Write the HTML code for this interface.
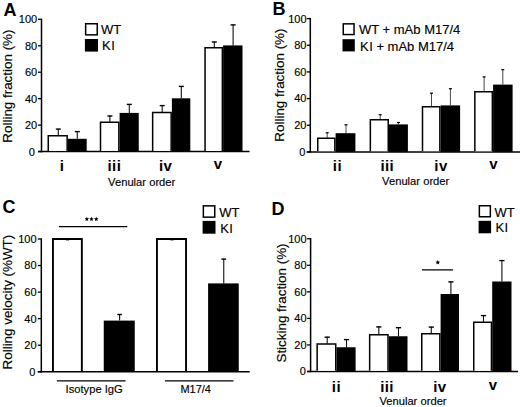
<!DOCTYPE html>
<html><head><meta charset="utf-8"><style>
html,body{margin:0;padding:0;background:#fff;}
body{width:520px;height:407px;overflow:hidden;}
svg{display:block;}
text{font-family:"Liberation Sans", sans-serif;fill:#000;stroke:#000;stroke-width:0.15px;}
text[font-weight=bold]{stroke:none;}
</style></head><body>
<svg width="520" height="407" viewBox="0 0 520 407">
<rect width="520" height="407" fill="#fff"/>
<text x="3.60" y="15.60" font-size="18" font-weight="bold">A</text>
<text transform="translate(11.60,86.10) rotate(-90)" font-size="13.4" text-anchor="middle">Rolling fraction (%)</text>
<line x1="41.50" y1="18.60" x2="41.50" y2="152.35" stroke="#000" stroke-width="1.5"/>
<line x1="38.00" y1="151.60" x2="249.50" y2="151.60" stroke="#000" stroke-width="1.5"/>
<line x1="38.00" y1="151.60" x2="41.50" y2="151.60" stroke="#000" stroke-width="1.3"/>
<text x="34.90" y="155.50" font-size="11" text-anchor="end">0</text>
<line x1="38.00" y1="125.14" x2="41.50" y2="125.14" stroke="#000" stroke-width="1.3"/>
<text x="37.20" y="129.04" font-size="11" text-anchor="end">20</text>
<line x1="38.00" y1="98.68" x2="41.50" y2="98.68" stroke="#000" stroke-width="1.3"/>
<text x="37.20" y="102.58" font-size="11" text-anchor="end">40</text>
<line x1="38.00" y1="72.22" x2="41.50" y2="72.22" stroke="#000" stroke-width="1.3"/>
<text x="37.20" y="76.12" font-size="11" text-anchor="end">60</text>
<line x1="38.00" y1="45.76" x2="41.50" y2="45.76" stroke="#000" stroke-width="1.3"/>
<text x="37.20" y="49.66" font-size="11" text-anchor="end">80</text>
<line x1="38.00" y1="19.30" x2="41.50" y2="19.30" stroke="#000" stroke-width="1.3"/>
<text x="37.20" y="23.20" font-size="11" text-anchor="end">100</text>
<line x1="58.30" y1="128.70" x2="58.30" y2="135.60" stroke="#111" stroke-width="1.1"/>
<line x1="55.80" y1="129.10" x2="60.80" y2="129.10" stroke="#000" stroke-width="1.4"/>
<line x1="77.30" y1="131.20" x2="77.30" y2="138.80" stroke="#111" stroke-width="1.1"/>
<line x1="74.80" y1="131.60" x2="79.80" y2="131.60" stroke="#000" stroke-width="1.4"/>
<path d="M48.25 150.90V135.85H67.15V150.90" fill="#fff" stroke="#000" stroke-width="1.5" stroke-linejoin="miter"/>
<rect x="67.90" y="138.80" width="18.80" height="12.80" fill="#000"/>
<line x1="109.90" y1="115.60" x2="109.90" y2="122.10" stroke="#111" stroke-width="1.1"/>
<line x1="107.40" y1="116.00" x2="112.40" y2="116.00" stroke="#000" stroke-width="1.4"/>
<line x1="129.30" y1="104.00" x2="129.30" y2="112.90" stroke="#111" stroke-width="1.1"/>
<line x1="126.80" y1="104.40" x2="131.80" y2="104.40" stroke="#000" stroke-width="1.4"/>
<path d="M100.50 150.90V122.35H118.85V150.90" fill="#fff" stroke="#000" stroke-width="1.5" stroke-linejoin="miter"/>
<rect x="119.60" y="112.90" width="19.15" height="38.70" fill="#000"/>
<line x1="162.20" y1="105.20" x2="162.20" y2="112.25" stroke="#111" stroke-width="1.1"/>
<line x1="159.70" y1="105.60" x2="164.70" y2="105.60" stroke="#000" stroke-width="1.4"/>
<line x1="181.30" y1="86.00" x2="181.30" y2="98.30" stroke="#111" stroke-width="1.1"/>
<line x1="178.80" y1="86.40" x2="183.80" y2="86.40" stroke="#000" stroke-width="1.4"/>
<path d="M152.65 150.90V112.50H171.15V150.90" fill="#fff" stroke="#000" stroke-width="1.5" stroke-linejoin="miter"/>
<rect x="171.90" y="98.30" width="18.40" height="53.30" fill="#000"/>
<line x1="214.30" y1="41.60" x2="214.30" y2="47.50" stroke="#111" stroke-width="1.1"/>
<line x1="211.80" y1="42.00" x2="216.80" y2="42.00" stroke="#000" stroke-width="1.4"/>
<line x1="233.10" y1="24.50" x2="233.10" y2="45.40" stroke="#111" stroke-width="1.1"/>
<line x1="230.60" y1="24.90" x2="235.60" y2="24.90" stroke="#000" stroke-width="1.4"/>
<path d="M205.05 150.90V47.75H222.35V150.90" fill="#fff" stroke="#000" stroke-width="1.5" stroke-linejoin="miter"/>
<rect x="223.10" y="45.40" width="19.40" height="106.20" fill="#000"/>
<text x="62.10" y="170.60" font-size="15" font-weight="bold" text-anchor="middle" letter-spacing="0.4">i</text>
<text x="114.40" y="170.60" font-size="15" font-weight="bold" text-anchor="middle" letter-spacing="0.4">iii</text>
<text x="165.70" y="170.60" font-size="15" font-weight="bold" text-anchor="middle" letter-spacing="0.4">iv</text>
<text x="218.20" y="168.60" font-size="15" font-weight="bold" text-anchor="middle" letter-spacing="0.4">v</text>
<text x="141.70" y="185.60" font-size="11.2" text-anchor="middle">Venular order</text>
<rect x="85.65" y="23.75" width="11.60" height="11.10" fill="#fff" stroke="#000" stroke-width="1.5"/>
<rect x="84.90" y="39.00" width="13.10" height="12.60" fill="#000"/>
<text x="101.00" y="34.20" font-size="13">WT</text>
<text x="102.00" y="50.20" font-size="13">K<tspan dx="0.5">I</tspan></text>
<text x="272.50" y="14.60" font-size="18" font-weight="bold">B</text>
<text transform="translate(284.00,85.10) rotate(-90)" font-size="13.4" text-anchor="middle">Rolling fraction (%)</text>
<line x1="310.30" y1="17.90" x2="310.30" y2="152.65" stroke="#000" stroke-width="1.5"/>
<line x1="306.80" y1="151.90" x2="520.00" y2="151.90" stroke="#000" stroke-width="1.5"/>
<line x1="306.80" y1="151.90" x2="310.30" y2="151.90" stroke="#000" stroke-width="1.3"/>
<text x="305.30" y="155.80" font-size="11" text-anchor="end">0</text>
<line x1="306.80" y1="125.24" x2="310.30" y2="125.24" stroke="#000" stroke-width="1.3"/>
<text x="306.50" y="129.14" font-size="11" text-anchor="end">20</text>
<line x1="306.80" y1="98.58" x2="310.30" y2="98.58" stroke="#000" stroke-width="1.3"/>
<text x="306.50" y="102.48" font-size="11" text-anchor="end">40</text>
<line x1="306.80" y1="71.92" x2="310.30" y2="71.92" stroke="#000" stroke-width="1.3"/>
<text x="306.50" y="75.82" font-size="11" text-anchor="end">60</text>
<line x1="306.80" y1="45.26" x2="310.30" y2="45.26" stroke="#000" stroke-width="1.3"/>
<text x="306.50" y="49.16" font-size="11" text-anchor="end">80</text>
<line x1="306.80" y1="18.60" x2="310.30" y2="18.60" stroke="#000" stroke-width="1.3"/>
<text x="306.50" y="22.50" font-size="11" text-anchor="end">100</text>
<line x1="327.20" y1="132.50" x2="327.20" y2="137.90" stroke="#333" stroke-width="0.9"/>
<line x1="325.70" y1="132.80" x2="328.70" y2="132.80" stroke="#000" stroke-width="1.2"/>
<line x1="346.00" y1="124.50" x2="346.00" y2="133.20" stroke="#333" stroke-width="0.9"/>
<line x1="344.50" y1="124.80" x2="347.50" y2="124.80" stroke="#000" stroke-width="1.2"/>
<path d="M317.75 151.20V138.15H334.85V151.20" fill="#fff" stroke="#000" stroke-width="1.5" stroke-linejoin="miter"/>
<rect x="335.60" y="133.20" width="19.80" height="18.70" fill="#000"/>
<line x1="380.20" y1="114.40" x2="380.20" y2="119.60" stroke="#333" stroke-width="0.9"/>
<line x1="378.70" y1="114.70" x2="381.70" y2="114.70" stroke="#000" stroke-width="1.2"/>
<line x1="398.50" y1="122.20" x2="398.50" y2="124.40" stroke="#333" stroke-width="0.9"/>
<line x1="397.00" y1="122.50" x2="400.00" y2="122.50" stroke="#000" stroke-width="1.2"/>
<path d="M370.35 151.20V119.85H388.25V151.20" fill="#fff" stroke="#000" stroke-width="1.5" stroke-linejoin="miter"/>
<rect x="389.00" y="124.40" width="18.90" height="27.50" fill="#000"/>
<line x1="431.50" y1="92.90" x2="431.50" y2="106.50" stroke="#333" stroke-width="0.9"/>
<line x1="430.00" y1="93.20" x2="433.00" y2="93.20" stroke="#000" stroke-width="1.2"/>
<line x1="450.40" y1="88.40" x2="450.40" y2="105.40" stroke="#333" stroke-width="0.9"/>
<line x1="448.90" y1="88.70" x2="451.90" y2="88.70" stroke="#000" stroke-width="1.2"/>
<path d="M422.50 151.20V106.75H439.85V151.20" fill="#fff" stroke="#000" stroke-width="1.5" stroke-linejoin="miter"/>
<rect x="440.60" y="105.40" width="19.50" height="46.50" fill="#000"/>
<line x1="484.10" y1="76.60" x2="484.10" y2="91.60" stroke="#333" stroke-width="0.9"/>
<line x1="482.60" y1="76.90" x2="485.60" y2="76.90" stroke="#000" stroke-width="1.2"/>
<line x1="502.80" y1="69.40" x2="502.80" y2="84.60" stroke="#333" stroke-width="0.9"/>
<line x1="501.30" y1="69.70" x2="504.30" y2="69.70" stroke="#000" stroke-width="1.2"/>
<path d="M474.85 151.20V91.85H492.35V151.20" fill="#fff" stroke="#000" stroke-width="1.5" stroke-linejoin="miter"/>
<rect x="493.10" y="84.60" width="19.50" height="67.30" fill="#000"/>
<text x="337.40" y="170.60" font-size="15" font-weight="bold" text-anchor="middle" letter-spacing="0.4">ii</text>
<text x="387.30" y="170.60" font-size="15" font-weight="bold" text-anchor="middle" letter-spacing="0.4">iii</text>
<text x="441.00" y="170.60" font-size="15" font-weight="bold" text-anchor="middle" letter-spacing="0.4">iv</text>
<text x="493.50" y="168.60" font-size="15" font-weight="bold" text-anchor="middle" letter-spacing="0.4">v</text>
<text x="415.70" y="185.40" font-size="11.2" text-anchor="middle">Venular order</text>
<rect x="343.25" y="23.85" width="10.80" height="10.70" fill="#fff" stroke="#000" stroke-width="1.5"/>
<rect x="342.50" y="39.20" width="12.30" height="12.20" fill="#000"/>
<text x="359.00" y="34.40" font-size="13">WT + mAb M17/4</text>
<text x="360.00" y="50.50" font-size="13">K<tspan dx="0.5">I</tspan> + mAb M17/4</text>
<text x="2.60" y="213.00" font-size="18" font-weight="bold">C</text>
<text transform="translate(12.30,302.10) rotate(-90)" font-size="13.4" text-anchor="middle">Rolling velocity (%WT)</text>
<line x1="41.30" y1="238.30" x2="41.30" y2="372.50" stroke="#000" stroke-width="1.5"/>
<line x1="37.80" y1="371.75" x2="249.70" y2="371.75" stroke="#000" stroke-width="1.5"/>
<line x1="37.80" y1="371.75" x2="41.30" y2="371.75" stroke="#000" stroke-width="1.3"/>
<text x="35.30" y="375.65" font-size="11" text-anchor="end">0</text>
<line x1="37.80" y1="345.20" x2="41.30" y2="345.20" stroke="#000" stroke-width="1.3"/>
<text x="36.60" y="349.10" font-size="11" text-anchor="end">20</text>
<line x1="37.80" y1="318.65" x2="41.30" y2="318.65" stroke="#000" stroke-width="1.3"/>
<text x="36.60" y="322.55" font-size="11" text-anchor="end">40</text>
<line x1="37.80" y1="292.10" x2="41.30" y2="292.10" stroke="#000" stroke-width="1.3"/>
<text x="36.60" y="296.00" font-size="11" text-anchor="end">60</text>
<line x1="37.80" y1="265.55" x2="41.30" y2="265.55" stroke="#000" stroke-width="1.3"/>
<text x="36.60" y="269.45" font-size="11" text-anchor="end">80</text>
<line x1="37.80" y1="239.00" x2="41.30" y2="239.00" stroke="#000" stroke-width="1.3"/>
<text x="36.60" y="242.90" font-size="11" text-anchor="end">100</text>
<path d="M52.95 371.05V238.95H81.85V371.05" fill="#fff" stroke="#000" stroke-width="1.9" stroke-linejoin="miter"/>
<rect x="103.75" y="320.60" width="31.00" height="51.15" fill="#000"/>
<path d="M156.95 371.05V238.95H186.05V371.05" fill="#fff" stroke="#000" stroke-width="1.9" stroke-linejoin="miter"/>
<rect x="208.10" y="283.40" width="30.65" height="88.35" fill="#000"/>
<line x1="119.60" y1="314.10" x2="119.60" y2="320.60" stroke="#111" stroke-width="1.1"/>
<line x1="117.30" y1="314.50" x2="121.90" y2="314.50" stroke="#000" stroke-width="1.4"/>
<line x1="223.75" y1="258.70" x2="223.75" y2="283.40" stroke="#111" stroke-width="1.1"/>
<line x1="221.35" y1="259.10" x2="226.15" y2="259.10" stroke="#000" stroke-width="1.4"/>
<line x1="65.9" y1="239.9" x2="69.1" y2="239.9" stroke="#000" stroke-width="1"/>
<line x1="170.3" y1="239.9" x2="173.5" y2="239.9" stroke="#000" stroke-width="1"/>
<line x1="59.0" y1="226.6" x2="127.3" y2="226.6" stroke="#000" stroke-width="1.3"/>
<polygon points="86.85,216.71 87.49,218.20 89.10,218.34 87.89,219.41 88.24,220.99 86.85,220.16 85.46,220.99 85.81,219.41 84.60,218.34 86.21,218.20" fill="#000"/>
<polygon points="91.50,216.71 92.14,218.20 93.75,218.34 92.54,219.41 92.89,220.99 91.50,220.16 90.11,220.99 90.46,219.41 89.25,218.34 90.86,218.20" fill="#000"/>
<polygon points="96.25,216.71 96.89,218.20 98.50,218.34 97.29,219.41 97.64,220.99 96.25,220.16 94.86,220.99 95.21,219.41 94.00,218.34 95.61,218.20" fill="#000"/>
<line x1="56.9" y1="380.8" x2="125.6" y2="380.8" stroke="#000" stroke-width="1.3"/>
<line x1="165.0" y1="380.9" x2="233.5" y2="380.9" stroke="#000" stroke-width="1.3"/>
<text x="94.20" y="392.90" font-size="11.2" text-anchor="middle">Isotype IgG</text>
<text x="195.70" y="392.80" font-size="11" text-anchor="middle">M17/4</text>
<rect x="203.35" y="205.85" width="11.40" height="11.30" fill="#fff" stroke="#000" stroke-width="1.5"/>
<rect x="202.60" y="220.90" width="12.90" height="12.80" fill="#000"/>
<text x="219.20" y="217.00" font-size="13">WT</text>
<text x="220.20" y="232.80" font-size="13">K<tspan dx="0.5">I</tspan></text>
<text x="271.40" y="215.30" font-size="18" font-weight="bold">D</text>
<text transform="translate(286.00,303.00) rotate(-90)" font-size="13.4" text-anchor="middle">Sticking fraction (%)</text>
<line x1="310.60" y1="238.05" x2="310.60" y2="372.25" stroke="#000" stroke-width="1.5"/>
<line x1="307.10" y1="371.50" x2="518.00" y2="371.50" stroke="#000" stroke-width="1.5"/>
<line x1="307.10" y1="371.50" x2="310.60" y2="371.50" stroke="#000" stroke-width="1.3"/>
<text x="305.80" y="375.40" font-size="11" text-anchor="end">0</text>
<line x1="307.10" y1="344.95" x2="310.60" y2="344.95" stroke="#000" stroke-width="1.3"/>
<text x="306.60" y="348.85" font-size="11" text-anchor="end">20</text>
<line x1="307.10" y1="318.40" x2="310.60" y2="318.40" stroke="#000" stroke-width="1.3"/>
<text x="306.60" y="322.30" font-size="11" text-anchor="end">40</text>
<line x1="307.10" y1="291.85" x2="310.60" y2="291.85" stroke="#000" stroke-width="1.3"/>
<text x="306.60" y="295.75" font-size="11" text-anchor="end">60</text>
<line x1="307.10" y1="265.30" x2="310.60" y2="265.30" stroke="#000" stroke-width="1.3"/>
<text x="306.60" y="269.20" font-size="11" text-anchor="end">80</text>
<line x1="307.10" y1="238.75" x2="310.60" y2="238.75" stroke="#000" stroke-width="1.3"/>
<text x="306.60" y="242.65" font-size="11" text-anchor="end">100</text>
<line x1="327.20" y1="336.80" x2="327.20" y2="343.75" stroke="#111" stroke-width="1.1"/>
<line x1="324.60" y1="337.20" x2="329.80" y2="337.20" stroke="#000" stroke-width="1.4"/>
<line x1="346.50" y1="339.20" x2="346.50" y2="347.25" stroke="#111" stroke-width="1.1"/>
<line x1="343.90" y1="339.60" x2="349.10" y2="339.60" stroke="#000" stroke-width="1.4"/>
<path d="M317.15 370.80V344.00H335.75V370.80" fill="#fff" stroke="#000" stroke-width="1.5" stroke-linejoin="miter"/>
<rect x="336.50" y="347.25" width="19.10" height="24.25" fill="#000"/>
<line x1="378.80" y1="326.50" x2="378.80" y2="334.40" stroke="#111" stroke-width="1.1"/>
<line x1="376.20" y1="326.90" x2="381.40" y2="326.90" stroke="#000" stroke-width="1.4"/>
<line x1="398.50" y1="327.30" x2="398.50" y2="336.25" stroke="#111" stroke-width="1.1"/>
<line x1="395.90" y1="327.70" x2="401.10" y2="327.70" stroke="#000" stroke-width="1.4"/>
<path d="M369.65 370.80V334.65H388.00V370.80" fill="#fff" stroke="#000" stroke-width="1.5" stroke-linejoin="miter"/>
<rect x="388.75" y="336.25" width="18.75" height="35.25" fill="#000"/>
<line x1="431.30" y1="326.70" x2="431.30" y2="333.50" stroke="#111" stroke-width="1.1"/>
<line x1="428.70" y1="327.10" x2="433.90" y2="327.10" stroke="#000" stroke-width="1.4"/>
<line x1="450.90" y1="281.50" x2="450.90" y2="294.00" stroke="#111" stroke-width="1.1"/>
<line x1="448.30" y1="281.90" x2="453.50" y2="281.90" stroke="#000" stroke-width="1.4"/>
<path d="M421.75 370.80V333.75H439.85V370.80" fill="#fff" stroke="#000" stroke-width="1.5" stroke-linejoin="miter"/>
<rect x="440.60" y="294.00" width="18.40" height="77.50" fill="#000"/>
<line x1="483.50" y1="315.20" x2="483.50" y2="321.90" stroke="#111" stroke-width="1.1"/>
<line x1="480.90" y1="315.60" x2="486.10" y2="315.60" stroke="#000" stroke-width="1.4"/>
<line x1="501.90" y1="260.20" x2="501.90" y2="281.50" stroke="#111" stroke-width="1.1"/>
<line x1="499.30" y1="260.60" x2="504.50" y2="260.60" stroke="#000" stroke-width="1.4"/>
<path d="M473.75 370.80V322.15H491.45V370.80" fill="#fff" stroke="#000" stroke-width="1.5" stroke-linejoin="miter"/>
<rect x="492.20" y="281.50" width="19.30" height="90.00" fill="#000"/>
<text x="336.40" y="391.60" font-size="15" font-weight="bold" text-anchor="middle" letter-spacing="0.4">ii</text>
<text x="387.10" y="391.60" font-size="15" font-weight="bold" text-anchor="middle" letter-spacing="0.4">iii</text>
<text x="439.90" y="391.60" font-size="15" font-weight="bold" text-anchor="middle" letter-spacing="0.4">iv</text>
<text x="493.20" y="389.60" font-size="15" font-weight="bold" text-anchor="middle" letter-spacing="0.4">v</text>
<text x="413.00" y="405.40" font-size="11.2" text-anchor="middle">Venular order</text>
<line x1="421.9" y1="269.8" x2="453.1" y2="269.8" stroke="#000" stroke-width="1.3"/>
<polygon points="437.80,259.92 438.48,261.50 440.20,261.66 438.90,262.80 439.28,264.48 437.80,263.60 436.32,264.48 436.70,262.80 435.40,261.66 437.12,261.50" fill="#000"/>
<rect x="479.35" y="205.75" width="11.00" height="11.00" fill="#fff" stroke="#000" stroke-width="1.5"/>
<rect x="478.60" y="220.80" width="12.50" height="12.50" fill="#000"/>
<text x="494.40" y="216.60" font-size="13">WT</text>
<text x="495.40" y="232.40" font-size="13">K<tspan dx="0.5">I</tspan></text>
</svg>
</body></html>
